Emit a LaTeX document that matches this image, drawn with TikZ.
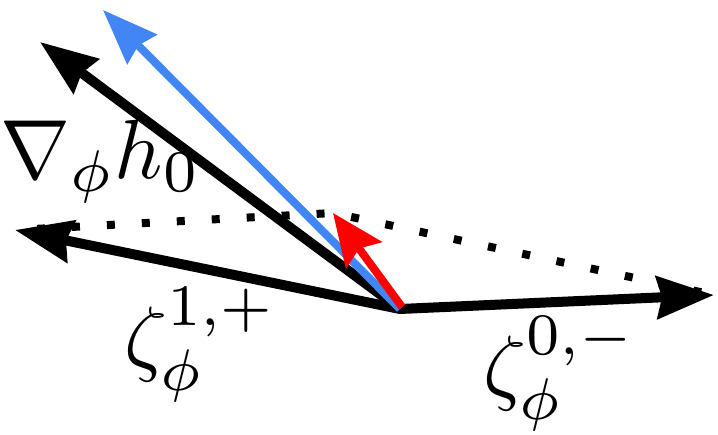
\documentclass[tikz,border=0pt]{standalone}
\usepackage{graphicx}
\usetikzlibrary{arrows.meta}
\definecolor{gblue}{RGB}{66,133,244}
\definecolor{gred}{RGB}{255,0,0}
\newcommand{\biglabel}[1]{\scalebox{8.4}{$#1$}}
\begin{document}
\begin{tikzpicture}[x=1pt,y=-1pt,
  bhead/.tip={Stealth[length=57pt,width=42pt,inset=5pt]},
  vec/.style={line width=10pt,-bhead},
  hull/.style={line width=8pt,dash pattern=on 8pt off 27pt,dash phase=13pt,line cap=butt},
  lbl/.style={inner sep=0pt,anchor=north west}]
\useasboundingbox (0,0) rectangle (718,435);
\coordinate (O) at (400,309);
\coordinate (tR) at (714,295);
\coordinate (tL) at (15,230);
\coordinate (tG) at (40,42);
\coordinate (tB) at (103,10);
\coordinate (tRed) at (333,213);
\draw[hull] (tL) -- (tRed) -- (tR);
\draw[line width=10pt,bhead-bhead] (tL) -- (O) -- (tR);
\draw[vec] (O) -- (tG);
\draw[gblue,line width=8pt,-{Stealth[length=55pt,width=41pt,inset=5pt]}] (O) -- (tB);
\draw[gred,line width=8pt,-{Stealth[length=52pt,width=44pt,inset=8pt]}] ([xshift=2pt,yshift=2pt]O) -- (tRed);
\node[lbl] (lg) at (0,120) {\biglabel{\nabla_{\phi} h_0}};
\node[lbl] (l1) at (124,287) {\biglabel{\zeta_{\phi}^{1,+}}};
\node[lbl] (l0) at (483,316) {\biglabel{\zeta_{\phi}^{0,-}}};
\end{tikzpicture}
\end{document}
